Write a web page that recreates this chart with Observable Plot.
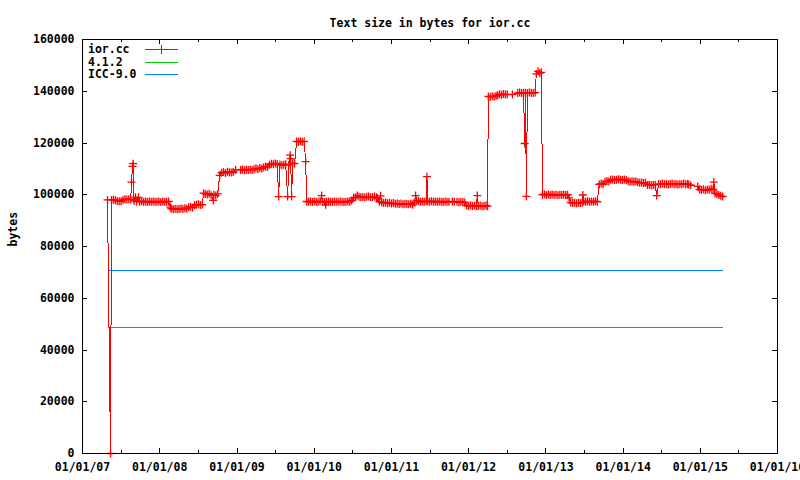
<!DOCTYPE html>
<html><head><meta charset="utf-8">
<script src="https://cdn.jsdelivr.net/npm/d3@7"></script>
<script src="https://cdn.jsdelivr.net/npm/@observablehq/plot@0.6"></script>
<style>
body{margin:0;background:#fff}
#wrap{position:relative;width:800px;height:480px;font-family:"DejaVu Sans Mono",monospace;font-weight:bold;font-size:11.5px}
.key-text{position:absolute;left:88px;line-height:12px;color:#000;white-space:nowrap}
.key-line{position:absolute;left:145px;width:33px;height:1px}
.key-tick{position:absolute;left:161px;width:1px;height:9px}
</style></head><body><div id="wrap"></div>
<script>
const title = "Text size in bytes for ior.cc";
const yLabel = "bytes";
const xTickYears = [2007,2008,2009,2010,2011,2012,2013,2014,2015,2016];
const xMinorYears = [2007.5,2008.5,2009.5,2010.5,2011.5,2012.5,2013.5,2014.5,2015.5];
const yTicks = [0,20000,40000,60000,80000,100000,120000,140000,160000];

// series: [decimal year, bytes]
const iorcc = [
[2007.324,98000],[2007.363,0],[2007.376,98000],[2007.400,98100],[2007.425,97900],[2007.450,97600],[2007.475,97500],[2007.500,97500],
[2007.525,98000],[2007.550,98300],[2007.575,98200],[2007.600,98300],[2007.625,98100],[2007.635,104900],[2007.648,111000],[2007.657,112000],
[2007.667,97600],[2007.687,99000],[2007.700,97400],[2007.725,99000],[2007.740,97300],[2007.765,97500],[2007.790,97300],[2007.815,97400],
[2007.840,97200],[2007.865,97400],[2007.890,97300],[2007.915,97400],[2007.940,97300],[2007.965,97300],[2007.990,97400],[2008.015,97200],
[2008.040,97400],[2008.065,97300],[2008.090,97300],[2008.115,97400],[2008.140,95200],[2008.150,94600],[2008.175,94400],[2008.200,94600],
[2008.225,94400],[2008.250,94500],[2008.275,94700],[2008.300,94500],[2008.325,94800],[2008.350,94600],[2008.375,95200],[2008.400,95400],
[2008.425,95100],[2008.450,96000],[2008.475,96100],[2008.500,96300],[2008.525,96000],[2008.550,96200],[2008.567,100600],[2008.590,100300],
[2008.615,100100],[2008.640,100400],[2008.665,99800],[2008.693,97800],[2008.700,100000],[2008.725,99700],[2008.750,100300],[2008.775,107500],
[2008.800,108500],[2008.825,108800],[2008.850,108400],[2008.875,108900],[2008.900,108700],[2008.925,108600],[2008.950,108800],[2008.982,109600],
[2009.047,109600],[2009.070,109800],[2009.095,109500],[2009.120,109700],[2009.145,109600],[2009.170,109800],[2009.195,109600],[2009.220,109900],
[2009.245,110200],[2009.270,109900],[2009.295,110300],[2009.320,110100],[2009.345,110600],[2009.370,110900],[2009.395,110700],[2009.420,111600],
[2009.445,112000],[2009.470,111800],[2009.495,112100],[2009.520,111900],[2009.539,99300],[2009.555,111700],[2009.580,111400],[2009.605,111600],
[2009.630,111800],[2009.655,99300],[2009.670,111500],[2009.688,115300],[2009.694,114000],[2009.707,99300],[2009.720,112200],[2009.745,112000],
[2009.772,120600],[2009.795,120400],[2009.820,120700],[2009.845,120500],[2009.870,120600],[2009.889,112800],[2009.902,97400],[2009.925,97300],
[2009.950,97500],[2009.975,97200],[2010.000,97400],[2010.025,97300],[2010.050,97300],[2010.075,97500],[2010.096,99700],[2010.110,97300],
[2010.135,97200],[2010.148,96100],[2010.160,97300],[2010.185,97400],[2010.210,97300],[2010.235,97200],[2010.260,97400],[2010.285,97300],
[2010.310,97300],[2010.335,97400],[2010.360,97300],[2010.385,97200],[2010.410,97300],[2010.435,97400],[2010.460,97300],[2010.485,97800],
[2010.510,98800],[2010.535,99000],[2010.558,99700],[2010.580,99200],[2010.605,99000],[2010.630,99100],[2010.655,98900],[2010.680,99200],
[2010.705,99300],[2010.730,99000],[2010.755,99100],[2010.780,99300],[2010.805,99000],[2010.821,98600],[2010.845,97300],[2010.860,99600],
[2010.875,97000],[2010.900,96800],[2010.925,97000],[2010.950,96700],[2010.975,96900],[2011.000,96600],[2011.025,96800],[2011.050,96500],
[2011.075,96600],[2011.100,96400],[2011.125,96600],[2011.150,96300],[2011.175,96500],[2011.200,96400],[2011.225,96300],[2011.250,96500],
[2011.275,96100],[2011.300,97000],[2011.313,99700],[2011.325,97800],[2011.350,97600],[2011.375,97300],[2011.400,97400],[2011.425,97300],
[2011.450,97500],[2011.460,107000],[2011.470,97400],[2011.495,97300],[2011.520,97500],[2011.545,97300],[2011.570,97400],[2011.595,97300],
[2011.620,97400],[2011.645,97300],[2011.670,97200],[2011.695,97400],[2011.720,97300],[2011.745,97300],[2011.790,97400],[2011.815,97300],
[2011.850,97300],[2011.875,97100],[2011.900,97300],[2011.925,97200],[2011.950,97000],[2011.975,95800],[2012.000,95600],[2012.025,95900],
[2012.050,95700],[2012.075,95800],[2012.100,95600],[2012.113,99700],[2012.125,95700],[2012.150,95800],[2012.175,95600],[2012.200,95700],
[2012.225,95800],[2012.245,95600],[2012.255,138000],[2012.280,137800],[2012.305,138100],[2012.330,137900],[2012.355,138200],[2012.376,138500],
[2012.400,138800],[2012.425,138600],[2012.450,138900],[2012.475,138700],[2012.500,138800],[2012.566,138700],[2012.635,139300],[2012.660,139500],
[2012.685,139300],[2012.710,139400],[2012.725,119800],[2012.735,139400],[2012.747,99400],[2012.760,139300],[2012.785,139500],[2012.810,139400],
[2012.835,139300],[2012.860,139500],[2012.875,146700],[2012.898,147700],[2012.920,147000],[2012.940,147300],[2012.955,100000],[2012.980,100200],
[2013.005,99900],[2013.030,100100],[2013.055,99900],[2013.080,100100],[2013.105,99900],[2013.130,100000],[2013.155,99800],[2013.180,100000],
[2013.205,99900],[2013.230,100100],[2013.255,99900],[2013.280,100000],[2013.300,98800],[2013.321,97000],[2013.345,96800],[2013.370,96900],
[2013.395,96700],[2013.420,96900],[2013.445,96800],[2013.470,96900],[2013.477,99900],[2013.490,97400],[2013.515,97300],[2013.540,97500],
[2013.565,97300],[2013.590,97400],[2013.615,97300],[2013.640,97500],[2013.665,97300],[2013.690,104000],[2013.715,104300],[2013.740,104100],
[2013.765,105000],[2013.790,105300],[2013.815,105100],[2013.840,105800],[2013.865,105900],[2013.890,105700],[2013.915,105800],[2013.940,106000],
[2013.965,105800],[2013.990,105700],[2014.015,105900],[2014.040,105700],[2014.065,105200],[2014.090,105000],[2014.115,105200],[2014.140,105000],
[2014.165,105100],[2014.190,104800],[2014.215,104600],[2014.240,104700],[2014.265,104500],[2014.290,104600],[2014.315,103800],[2014.340,103900],
[2014.365,103700],[2014.390,103800],[2014.415,103900],[2014.435,99700],[2014.460,104200],[2014.485,104100],[2014.510,104300],[2014.535,104100],
[2014.560,104200],[2014.585,104000],[2014.610,104200],[2014.635,104300],[2014.660,104100],[2014.685,104200],[2014.710,104000],[2014.735,104200],
[2014.760,104100],[2014.785,104300],[2014.810,104100],[2014.835,104200],[2014.850,104000],[2014.876,103700],[2014.966,103200],[2014.990,102000],
[2015.015,101800],[2015.040,102100],[2015.065,101700],[2015.090,102000],[2015.115,101900],[2015.140,102300],[2015.165,102100],[2015.174,104900],
[2015.190,100500],[2015.215,100300],[2015.240,99900],[2015.265,99600],[2015.290,99300]
];
const refYears = [2007.337, 2015.290];
const gcc412 = [48600, 48600];
const icc90 = [70600, 70600];

const seriesNames = ["ior.cc", "4.1.2", "ICC-9.0"];
const seriesColors = ["#ff0000", "#00c000", "#0080ff"];

const toDate = y => { const Y = Math.floor(y); const s = Date.UTC(Y,0,1), e = Date.UTC(Y+1,0,1); return new Date(s + (y - Y) * (e - s)); };
const ior = iorcc.map(([y, v]) => ({date: toDate(y), bytes: v}));
const rows412 = refYears.map((y, i) => ({date: toDate(y), bytes: gcc412[i]}));
const rowsIcc = refYears.map((y, i) => ({date: toDate(y), bytes: icc90[i]}));
const xMajor = xTickYears.map(y => new Date(Date.UTC(y, 0, 1)));
const xMinor = xMinorYears.map(toDate);

const plusSymbol = {draw(ctx, size) { const r = Math.sqrt(size / Math.PI); ctx.moveTo(-r, 0); ctx.lineTo(r, 0); ctx.moveTo(0, -r); ctx.lineTo(0, r); }};

const W = 800, H = 480, mt = 39, mr = 23, mb = 27, ml = 82;
const fh = H - mt - mb, fw = W - ml - mr;
const crisp = {shapeRendering: "crispEdges"};

const chart = Plot.plot({
  width: W, height: H, marginTop: mt, marginRight: mr, marginBottom: mb, marginLeft: ml,
  style: {fontFamily: '"DejaVu Sans Mono", monospace', fontSize: "11.5px", fontWeight: "bold", background: "#fff", overflow: "visible"},
  x: {type: "utc", domain: [xMajor[0], xMajor[xMajor.length - 1]]},
  y: {domain: [0, 160000]},
  marks: [
    Plot.line(rows412, {x: "date", y: "bytes", stroke: seriesColors[1], strokeWidth: 1, ...crisp}),
    Plot.line(rowsIcc, {x: "date", y: "bytes", stroke: seriesColors[2], strokeWidth: 1, ...crisp}),
    Plot.line(ior, {x: "date", y: "bytes", stroke: seriesColors[0], strokeWidth: 1, ...crisp}),
    Plot.dot(ior, {x: "date", y: "bytes", symbol: plusSymbol, r: 4, stroke: seriesColors[0], fill: "none", strokeWidth: 1.3}),
    Plot.frame({stroke: "#000", ...crisp}),
    Plot.tickX(xMajor, {x: d => d, insetTop: fh - 5, stroke: "#000", ...crisp}),
    Plot.tickX(xMajor, {x: d => d, insetBottom: fh - 5, stroke: "#000", ...crisp}),
    Plot.tickX(xMinor, {x: d => d, insetTop: fh - 3, stroke: "#000", ...crisp}),
    Plot.tickX(xMinor, {x: d => d, insetBottom: fh - 3, stroke: "#000", ...crisp}),
    Plot.tickY(yTicks, {y: d => d, insetRight: fw - 5, stroke: "#000", ...crisp}),
    Plot.tickY(yTicks, {y: d => d, insetLeft: fw - 5, stroke: "#000", ...crisp}),
    Plot.axisX(xMajor, {tickSize: 0, tickPadding: 9, tickFormat: d3.utcFormat("%d/%m/%y"), label: null}),
    Plot.axisY(yTicks, {tickSize: 0, tickPadding: 8, tickFormat: d => String(d), label: null}),
    Plot.text([yLabel], {frameAnchor: "left", dx: -69, rotate: -90}),
    Plot.text([title], {frameAnchor: "top", dy: -21})
  ]
});
const wrap = document.getElementById("wrap");
wrap.appendChild(chart);

// key (inside plot, top-left), built from the series names and colours
seriesNames.forEach((name, i) => {
  const cy = Math.round(49 + i * 12.6);
  const t = document.createElement("div");
  t.className = "key-text"; t.style.top = (cy - 6) + "px"; t.textContent = name;
  wrap.appendChild(t);
  const l = document.createElement("div");
  l.className = "key-line"; l.style.top = cy + "px"; l.style.background = seriesColors[i];
  wrap.appendChild(l);
  if (i === 0) {
    const k = document.createElement("div");
    k.className = "key-tick"; k.style.top = (cy - 4) + "px"; k.style.background = seriesColors[i];
    wrap.appendChild(k);
  }
});
</script></body></html>
